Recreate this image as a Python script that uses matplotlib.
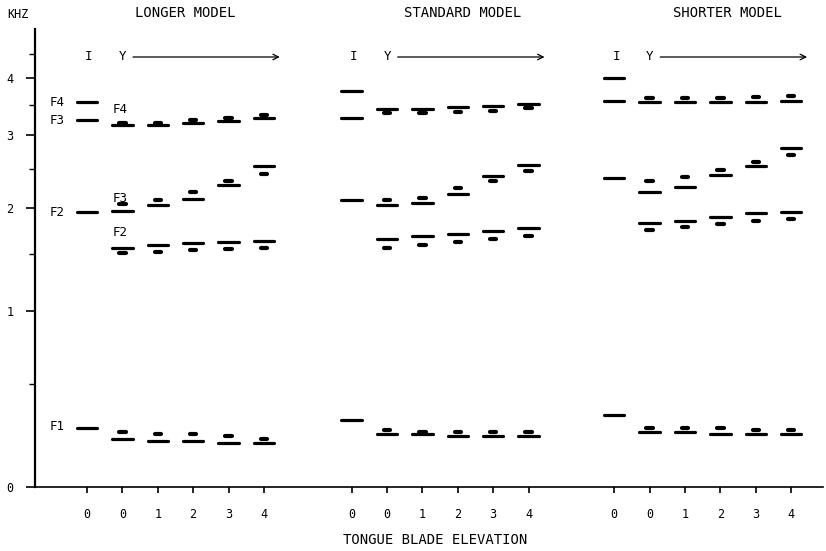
import numpy as np
import matplotlib
matplotlib.use("Agg")
import matplotlib.pyplot as plt
from matplotlib.ticker import FixedLocator

plt.rcParams['font.family'] = ['DejaVu Sans Mono']

nan = np.nan
models = ["LONGER MODEL", "STANDARD MODEL", "SHORTER MODEL"]
x_labels = ["0", "0", "1", "2", "3", "4"]   # I, then Y with tongue blade elevation 0..4

# formant bars (kHz): columns I, Y0, Y1, Y2, Y3, Y4
longer_bar = {
    "F1": [0.26, 0.21, 0.20, 0.20, 0.19, 0.19],
    "F2": [1.95, 1.56, 1.59, 1.61, 1.62, 1.63],
    "F3": [3.24, 1.96, 2.03, 2.11, 2.29, 2.54],
    "F4": [3.55, 3.16, 3.16, 3.20, 3.22, 3.27],
}
longer_mark = {
    "F1": [nan, 0.24, 0.23, 0.23, 0.22, 0.21],
    "F2": [nan, 1.51, 1.52, 1.54, 1.55, 1.56],
    "F3": [nan, 2.05, 2.09, 2.19, 2.34, 2.43],
    "F4": [nan, 3.20, 3.20, 3.25, 3.28, 3.33],
}
standard_bar = {
    "F1": [0.30, 0.23, 0.23, 0.22, 0.22, 0.22],
    "F2": [2.10, 1.65, 1.69, 1.71, 1.74, 1.77],
    "F3": [3.27, 2.03, 2.06, 2.17, 2.40, 2.55],
    "F4": [3.76, 3.43, 3.43, 3.46, 3.48, 3.51],
}
standard_mark = {
    "F1": [nan, 0.25, 0.24, 0.24, 0.24, 0.24],
    "F2": [nan, 1.56, 1.59, 1.62, 1.66, 1.69],
    "F3": [nan, 2.10, 2.12, 2.25, 2.34, 2.47],
    "F4": [nan, 3.36, 3.36, 3.38, 3.40, 3.44],
}
shorter_bar = {
    "F1": [0.33, 0.24, 0.24, 0.23, 0.23, 0.23],
    "F2": [2.37, 1.83, 1.85, 1.89, 1.94, 1.95],
    "F3": [3.57, 2.20, 2.26, 2.42, 2.54, 2.80],
    "F4": [4.00, 3.55, 3.56, 3.56, 3.56, 3.58],
}
shorter_mark = {
    "F1": [nan, 0.26, 0.26, 0.26, 0.25, 0.25],
    "F2": [nan, 1.75, 1.78, 1.82, 1.85, 1.87],
    "F3": [nan, 2.34, 2.39, 2.48, 2.59, 2.69],
    "F4": [nan, 3.62, 3.63, 3.63, 3.64, 3.66],
}
bars = [longer_bar, standard_bar, shorter_bar]
marks = [longer_mark, standard_mark, shorter_mark]

group_offsets = [0.0, 7.48, 14.9]
col_pos = np.arange(6)

W, H = 826, 551
fig = plt.figure(figsize=(W / 100, H / 100), dpi=100)
ax = fig.add_axes([35 / W, (H - 487) / H, (823 - 35) / W, (487 - 29) / H])

fwd = lambda f: np.log2(1 + np.clip(f, -0.99, None))
inv = lambda y: 2.0 ** y - 1
ax.set_yscale('function', functions=(fwd, inv))
ax.set_ylim(0, 5.07)
ax.set_xlim(-1.47, 20.8)

for off, b, m in zip(group_offsets, bars, marks):
    xs = off + col_pos
    for key in ["F1", "F2", "F3", "F4"]:
        ax.hlines(b[key], xs - 0.29, xs + 0.29, colors='black', linewidth=2.3,
                  capstyle='round', zorder=3)
        ax.hlines(m[key], xs - 0.09, xs + 0.09, colors='black', linewidth=3.0,
                  capstyle='round', zorder=3)

# axes styling
for s in ['top', 'right']:
    ax.spines[s].set_visible(False)
ax.spines['left'].set_linewidth(1.6)
ax.spines['bottom'].set_linewidth(1.2)

ax.yaxis.set_major_locator(FixedLocator([0, 1, 2, 3, 4]))
ax.yaxis.set_minor_locator(FixedLocator([0.5, 1.5, 2.5, 3.5, 4.5]))
ax.set_yticklabels(["0", "1", "2", "3", "4"], fontsize=8.5)
ax.tick_params(axis='y', which='major', length=6.5, width=1.2, pad=9)
ax.tick_params(axis='y', which='minor', length=4, width=1.0)

xt = np.concatenate([off + col_pos for off in group_offsets])
ax.set_xticks(xt)
ax.set_xticklabels(x_labels * 3, fontsize=8.5)
ax.tick_params(axis='x', which='major', length=4, width=1.2, pad=11)

# I / Y labels and arrows
yfrac = (487 - 57) / 458
trans = ax.get_xaxis_transform()
for off in group_offsets:
    ax.text(off + 0.05, yfrac, "I", transform=trans, ha='center', va='center', fontsize=9)
    ax.text(off + 1.0, yfrac, "Y", transform=trans, ha='center', va='center', fontsize=9)
    ax.annotate("", xy=(off + 5.45, yfrac), xytext=(off + 1.3, yfrac),
                xycoords=trans, textcoords=trans,
                arrowprops=dict(arrowstyle='->', color='black', lw=0.9,
                                shrinkA=0, shrinkB=0))

# formant labels (longer model)
fl = dict(fontsize=9, va='center', ha='left')
ax.text(-1.05, 3.55, "F4", **fl)
ax.text(-1.05, 3.24, "F3", **fl)
ax.text(-1.05, 1.95, "F2", **fl)
ax.text(-1.05, 0.27, "F1", **fl)
ax.text(0.73, 3.42, "F4", **fl)
ax.text(0.73, 2.12, "F3", **fl)
ax.text(0.73, 1.72, "F2", **fl)

# titles
fig.text(7 / W, 1 - 15 / H, "KHZ", fontsize=8.5, ha='left', va='center')
for cx, name in zip([185, 463, 727], models):
    fig.text(cx / W, 1 - 13 / H, name, fontsize=10, ha='center', va='center')
fig.text(435 / W, 1 - 540 / H, "TONGUE BLADE ELEVATION", fontsize=10,
         ha='center', va='center')

fig.savefig("out.png", dpi=100)
